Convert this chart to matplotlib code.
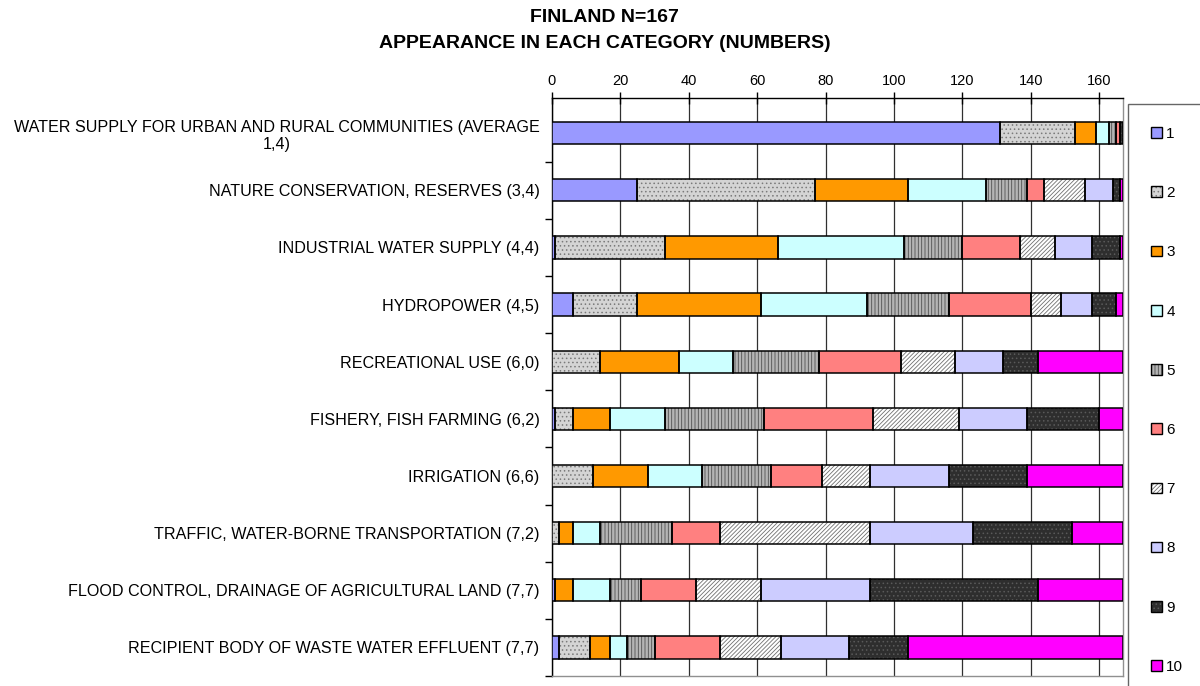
import matplotlib
matplotlib.use('Agg')
import matplotlib.pyplot as plt
import numpy as np
from matplotlib.patches import Patch
from matplotlib.legend_handler import HandlerTuple

plt.rcParams['font.family'] = ['Liberation Sans', 'DejaVu Sans']
plt.rcParams['hatch.linewidth'] = 0.6

categories = [
    "WATER SUPPLY FOR URBAN AND RURAL COMMUNITIES (AVERAGE\n1,4)",
    "NATURE CONSERVATION, RESERVES (3,4)",
    "INDUSTRIAL WATER SUPPLY (4,4)",
    "HYDROPOWER (4,5)",
    "RECREATIONAL USE (6,0)",
    "FISHERY, FISH FARMING (6,2)",
    "IRRIGATION (6,6)",
    "TRAFFIC, WATER-BORNE TRANSPORTATION (7,2)",
    "FLOOD CONTROL, DRAINAGE OF AGRICULTURAL LAND (7,7)",
    "RECIPIENT BODY OF WASTE WATER EFFLUENT (7,7)",
]
series_labels = ['1', '2', '3', '4', '5', '6', '7', '8', '9', '10']
s1 = [131, 25, 1, 6, 0, 1, 0, 0, 1, 2]
s2 = [22, 52, 32, 19, 14, 5, 12, 2, 0, 9]
s3 = [6, 27, 33, 36, 23, 11, 16, 4, 5, 6]
s4 = [4, 23, 37, 31, 16, 16, 16, 8, 11, 5]
s5 = [2, 12, 17, 24, 25, 29, 20, 21, 9, 8]
s6 = [1, 5, 17, 24, 24, 32, 15, 14, 16, 19]
s7 = [0, 12, 10, 9, 16, 25, 14, 44, 19, 18]
s8 = [0, 8, 11, 9, 14, 20, 23, 30, 32, 20]
s9 = [1, 2, 8, 7, 10, 21, 23, 29, 49, 17]
s10 = [0, 1, 1, 2, 25, 7, 28, 15, 25, 63]
series = [s1, s2, s3, s4, s5, s6, s7, s8, s9, s10]
x_ticks = [0, 20, 40, 60, 80, 100, 120, 140, 160]
N_total = 167

# style: (facecolor, hatch, hatchcolor)
styles = [
    ('#9999ff', None, None),
    ('#d4d4d4', '....', '#7a7a7a'),
    ('#ff9900', None, None),
    ('#ccffff', None, None),
    ('#b4b4b4', '|||||', '#505050'),
    ('#ff8080', None, None),
    ('#ffffff', '////////', '#707070'),
    ('#ccccff', None, None),
    ('#2e2e2e', '....', '#5a5a5a'),
    ('#ff00ff', None, None),
]

W, H = 1200, 686
fig = plt.figure(figsize=(W / 100, H / 100), dpi=100)
ax_top, ax_bot = 98, 676
ax = fig.add_axes([552 / W, 1 - ax_bot / H, (1123 - 552) / W, (ax_bot - ax_top) / H])

ypos = np.arange(len(categories))
left = np.zeros(len(categories))
bh = 0.39
handles = []
for vals, (fc, hatch, hc), lab in zip(series, styles, series_labels):
    vals = np.array(vals, dtype=float)
    parts = [ax.barh(ypos, vals, left=left, height=bh, color=fc, linewidth=0, zorder=3)]
    proxy = [Patch(facecolor=fc, linewidth=0)]
    if hatch:
        parts.append(ax.barh(ypos, vals, left=left, height=bh, facecolor='none',
                             edgecolor=hc, hatch=hatch, linewidth=0, zorder=4))
        proxy.append(Patch(facecolor='none', edgecolor=hc, hatch=hatch, linewidth=0))
    parts.append(ax.barh(ypos, vals, left=left, height=bh, fill=False,
                         edgecolor='black', linewidth=1.1, zorder=5))
    proxy.append(Patch(fill=False, edgecolor='black', linewidth=1.0))
    for p in parts:
        for rect, v in zip(p.patches, vals):
            if v == 0:
                rect.set_visible(False)
    handles.append(tuple(proxy))
    left += vals

ax.set_xlim(0, N_total)
ax.set_ylim(len(categories) - 0.5, -0.5 - 6.5 / 57.1)
ax.xaxis.tick_top()
ax.set_xticks(x_ticks)
ax.set_xticklabels([str(t) for t in x_ticks], fontsize=10.5)
ax.tick_params(axis='x', direction='inout', length=8, width=1, pad=3)
ax.grid(axis='x', color='#303030', linewidth=0.9, zorder=0)
ax.set_axisbelow(True)

ax.set_yticks(ypos)
ax.set_yticklabels(categories, fontsize=11.6, multialignment='center')
ax.tick_params(axis='y', which='major', length=0, pad=9)
ax.set_yticks(np.arange(0.5, len(categories) + 0.5, 1), minor=True)
ax.tick_params(axis='y', which='minor', direction='out', length=5, width=1)

ax.spines['left'].set_color('black')
ax.spines['top'].set_color('black')
ax.spines['right'].set_color('#909090')
ax.spines['bottom'].set_color('#909090')
for s in ax.spines.values():
    s.set_linewidth(1)

fig.text(0.504, 1 - 18 / H, 'FINLAND N=167', ha='center', va='center',
         fontsize=14, fontweight='bold')
fig.text(0.504, 1 - 43 / H, 'APPEARANCE IN EACH CATEGORY (NUMBERS)', ha='center',
         va='center', fontsize=14, fontweight='bold')

leg = fig.legend(handles, series_labels, loc='upper left',
                 bbox_to_anchor=(1128 / W, 1 - 104 / H), borderaxespad=0,
                 fontsize=11, handlelength=0.7, handleheight=0.7,
                 handletextpad=0.3, labelspacing=2.96, borderpad=1.5,
                 fancybox=False, frameon=True,
                 handler_map={tuple: HandlerTuple(ndivide=1)})
leg.get_frame().set_edgecolor('#404040')
leg.get_frame().set_linewidth(1)

fig.savefig('out.png', dpi=100)
